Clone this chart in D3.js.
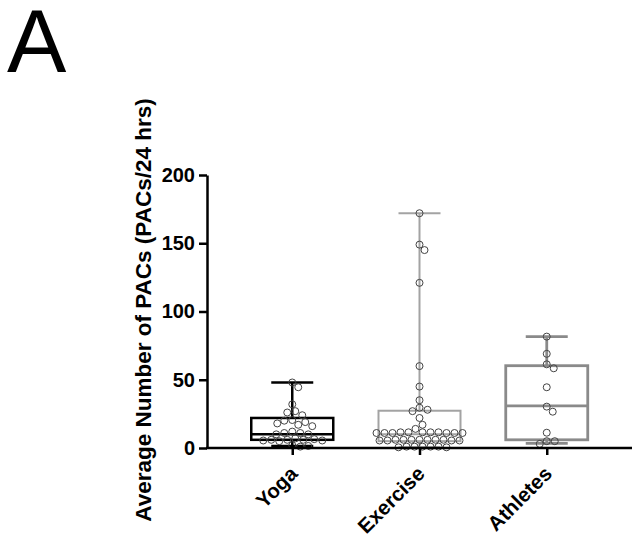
<!DOCTYPE html>
<html>
<head>
<meta charset="utf-8">
<script src="https://cdn.jsdelivr.net/npm/d3@7"></script>
<style>
  body { margin: 0; background: #fff; }
  text { font-family: Arial, "Liberation Sans", sans-serif; }
</style>
</head>
<body>
<div id="chart"></div>
<script>
// Box-and-scatter of PACs per 24 hrs by group

const categories = ["Yoga", "Exercise", "Athletes"];

// individual subject values
const yogaValues = [48, 44.5, 32, 26, 27, 24, 20.5, 20, 19, 18, 17, 16,
  12, 11, 11, 10, 10, 7, 6.5, 6, 6, 6, 5.5, 5.5, 5, 2, 1.5, 1];
const exerciseValues = [172, 149, 145, 121, 60, 45, 35, 29.5, 28, 27, 22, 17, 14,
  11.5, 11.5, 11, 11, 11.5, 11, 11, 11.5, 11, 11, 11.5,
  6, 6, 5.5, 6, 5.5, 6, 5.5, 6, 6, 5.5, 6,
  1, 1, 0.5, 1, 0.5, 1, 1];
const athleteValues = [81.6, 69, 61.3, 58.4, 44.5, 30.3, 26.6, 11.2, 5, 5, 3];

// box statistics: [min, q1, median, q3, max]
const yogaBox = [1.5, 6, 10, 22, 48];
const exerciseBox = [0.5, 5, 10, 27.3, 172];
const athleteBox = [3.4, 6, 30.8, 60.3, 81.6];

const yTicks = [0, 50, 100, 150, 200];

const groups = [
  { name: categories[0], values: yogaValues, box: yogaBox, color: "#000", sw: 2.5 },
  { name: categories[1], values: exerciseValues, box: exerciseBox, color: "#a3a3a3", sw: 2 },
  { name: categories[2], values: athleteValues, box: athleteBox, color: "#8a8a8a", sw: 2.8 }
];

const width = 639, height = 541;
const plotLeft = 207, plotRight = 632, plotTop = 175, plotBottom = 448;

const svg = d3.select("#chart").append("svg")
  .attr("width", width).attr("height", height);

const x = d3.scalePoint().domain(categories).range([plotLeft, plotRight]).padding(0.67);
const y = d3.scaleLinear().domain([0, 200]).range([plotBottom, plotTop]);

const boxW = 82, capW = 42, r = 3.5;

// boxes
groups.forEach((g) => {
  const cx = x(g.name);
  const [mn, q1, md, q3, mx] = g.box;
  const gg = svg.append("g")
    .attr("stroke", g.color).attr("stroke-width", g.sw).attr("fill", "none");
  gg.append("line").attr("x1", cx).attr("x2", cx).attr("y1", y(mx)).attr("y2", y(q3));
  gg.append("line").attr("x1", cx).attr("x2", cx).attr("y1", y(q1)).attr("y2", y(mn));
  gg.append("line").attr("x1", cx - capW / 2).attr("x2", cx + capW / 2).attr("y1", y(mx)).attr("y2", y(mx));
  gg.append("line").attr("x1", cx - capW / 2).attr("x2", cx + capW / 2).attr("y1", y(mn)).attr("y2", y(mn));
  gg.append("rect").attr("x", cx - boxW / 2).attr("width", boxW)
    .attr("y", y(q3)).attr("height", y(q1) - y(q3));
  gg.append("line").attr("x1", cx - boxW / 2).attr("x2", cx + boxW / 2).attr("y1", y(md)).attr("y2", y(md));
});

// simple beeswarm: place each point nearest the centre without overlap
function swarm(values, cx) {
  const placed = [];
  const d = 2 * r + 0.4;
  values.slice().sort((a, b) => b - a).forEach((v) => {
    const py = y(v);
    for (let k = 0; k < 120; k++) {
      const off = k === 0 ? 0 : Math.ceil(k / 2) * (k % 2 ? 1 : -1);
      const px = cx + off;
      if (placed.every((p) => Math.hypot(p.x - px, p.y - py) >= d)) {
        placed.push({ x: px, y: py });
        return;
      }
    }
    placed.push({ x: cx, y: py });
  });
  return placed;
}

groups.forEach((g) => {
  svg.append("g").selectAll("circle")
    .data(swarm(g.values, x(g.name)))
    .enter().append("circle")
    .attr("cx", (d) => d.x).attr("cy", (d) => d.y).attr("r", r)
    .attr("fill", "none").attr("stroke", "#444").attr("stroke-width", 1);
});

// y axis
const yAxis = svg.append("g").attr("transform", `translate(${plotLeft},0)`)
  .call(d3.axisLeft(y).tickValues(yTicks).tickSize(8).tickPadding(4).tickSizeOuter(0));
yAxis.select(".domain").attr("stroke-width", 2.5);
yAxis.selectAll(".tick line").attr("stroke-width", 2.5);
yAxis.selectAll("text").attr("font-size", 20).attr("font-weight", "bold")
  .attr("font-family", "Arial, 'Liberation Sans', sans-serif").attr("fill", "#000");

// x axis
const xAxis = svg.append("g").attr("transform", `translate(0,${plotBottom})`)
  .call(d3.axisBottom(x).tickSize(7).tickSizeOuter(0));
xAxis.select(".domain").remove();
xAxis.append("line").attr("x1", plotLeft - 1).attr("x2", plotRight).attr("stroke", "#000").attr("stroke-width", 2.5);
xAxis.selectAll(".tick line").attr("stroke-width", 2.5);
xAxis.selectAll(".tick text")
  .attr("font-size", 20.5).attr("font-weight", "bold").attr("fill", "#000")
  .attr("font-family", "Arial, 'Liberation Sans', sans-serif")
  .attr("text-anchor", "end").attr("dy", null).attr("y", 0)
  .attr("transform", "translate(6,27) rotate(-45)");

// y title
svg.append("text")
  .attr("transform", `translate(151,310) rotate(-90)`)
  .attr("text-anchor", "middle")
  .attr("font-size", 22.5).attr("font-weight", "bold")
  .text("Average Number of PACs (PACs/24 hrs)");

// panel letter
svg.append("text").attr("x", 7).attr("y", 72).attr("font-size", 89).text("A");
</script>
</body>
</html>
